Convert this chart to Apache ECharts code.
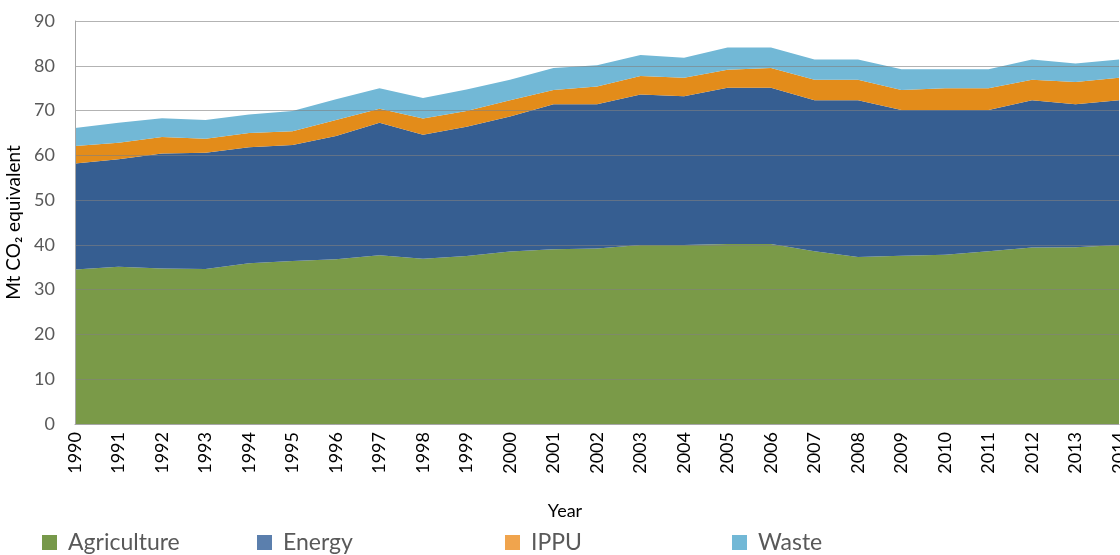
<!DOCTYPE html>
<html>
<head>
<meta charset="utf-8">
<script src="https://cdn.jsdelivr.net/npm/echarts@6/dist/echarts.min.js"></script>
<style>html,body{margin:0;padding:0;background:#fff}#c{width:1120px;height:555px}</style>
</head>
<body>
<div id="c"></div>
<script>
const years = ['1990','1991','1992','1993','1994','1995','1996','1997','1998','1999','2000','2001','2002','2003','2004','2005','2006','2007','2008','2009','2010','2011','2012','2013','2014'];
const agriculture = [34.5,35.1,34.7,34.6,35.9,36.4,36.8,37.7,36.9,37.5,38.5,39.0,39.2,40.0,40.0,40.2,40.2,38.6,37.3,37.6,37.8,38.6,39.4,39.5,40.0];
const energy = [23.7,24.0,25.7,26.0,25.9,25.9,27.5,29.6,27.7,28.9,30.2,32.4,32.2,33.6,33.2,34.9,34.9,33.7,35.0,32.5,32.3,31.5,32.9,31.9,32.3];
const ippu = [3.9,3.7,3.7,3.1,3.2,3.1,3.6,3.1,3.6,3.5,3.6,3.2,4.0,4.1,4.1,4.0,4.4,4.6,4.6,4.5,4.9,4.9,4.6,5.0,5.0];
const waste = [4.0,4.5,4.2,4.2,4.1,4.5,4.6,4.6,4.6,4.8,4.6,4.9,4.7,4.7,4.5,5.0,4.6,4.5,4.5,4.6,4.2,4.2,4.5,4.1,4.1];
const yTicks = [0,10,20,30,40,50,60,70,80,90];

const FONT = "Lato, 'DejaVu Sans', sans-serif";
const seriesDefs = [
  {name:'Agriculture', data:agriculture, color:'#7a9a48', legend:'#77994a', left:42},
  {name:'Energy', data:energy, color:'#365e91', legend:'#5b7fad', left:257},
  {name:'IPPU', data:ippu, color:'#e38c1a', legend:'#f0a44d', left:505},
  {name:'Waste', data:waste, color:'#72b8d6', legend:'#72b8d6', left:732}
];

const chart = echarts.init(document.getElementById('c'), null, {renderer:'canvas'});
chart.setOption({
  animation:false,
  textStyle:{fontFamily:FONT},
  grid:{left:75, right:1, top:21, bottom:131, containLabel:false, outerBoundsMode:'none'},
  legend: seriesDefs.map(s => ({
    data:[{name:s.name, itemStyle:{color:s.legend}}],
    left:s.left, top:531, padding:0, icon:'rect', itemWidth:15, itemHeight:15,
    textStyle:{fontSize:23, color:'#595959', fontFamily:FONT, padding:[0,0,0,6]}
  })),
  xAxis:{
    type:'category', data:years, boundaryGap:false, z:5,
    name:'Year', nameLocation:'middle', nameGap:78,
    nameTextStyle:{fontSize:18, color:'#000', fontFamily:FONT, padding:[0,64,0,0]},
    axisLine:{show:true, lineStyle:{color:'#a6a6a6', width:1}},
    axisTick:{show:false},
    axisLabel:{rotate:90, fontSize:18, color:'#000', margin:8, fontFamily:FONT, interval:0}
  },
  yAxis:{
    type:'value', min:yTicks[0], max:yTicks[yTicks.length-1], interval:10, z:5,
    name:'Mt CO\u2082 equivalent', nameLocation:'middle', nameGap:46,
    nameTextStyle:{fontSize:19, color:'#000', fontFamily:FONT},
    axisLine:{show:true, lineStyle:{color:'#a6a6a6', width:1}},
    axisTick:{show:false},
    axisLabel:{fontSize:18, color:'#595959', margin:20, fontFamily:FONT},
    splitLine:{show:true, lineStyle:{color:'rgba(128,128,128,0.6)', width:1}}
  },
  series: seriesDefs.map(s => ({
    name:s.name, type:'line', stack:'total', data:s.data,
    showSymbol:false, symbol:'none', z:2,
    lineStyle:{width:0, color:s.color},
    itemStyle:{color:s.color},
    areaStyle:{color:s.color, opacity:1}
  }))
});
</script>
</body>
</html>
